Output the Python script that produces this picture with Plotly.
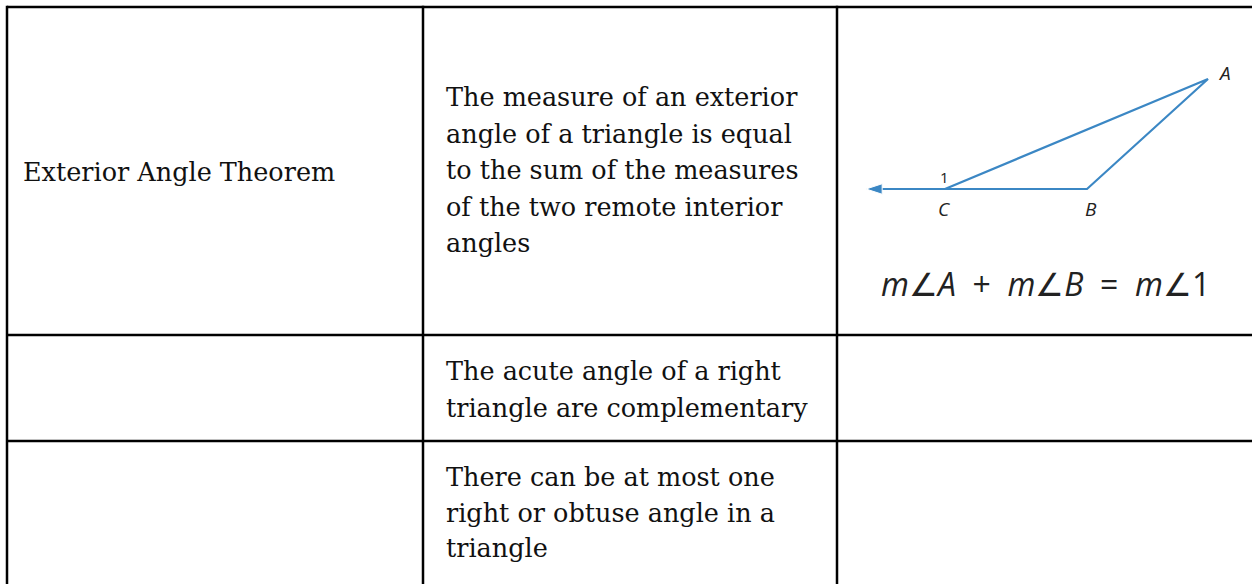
import plotly.graph_objects as go

# Contenu du tableau
theorem_names = ["Exterior Angle Theorem", "", ""]
theorem_texts = [
    ["The measure of an exterior",
     "angle of a triangle is equal",
     "to the sum of the measures",
     "of the two remote interior",
     "angles"],
    ["The acute angle of a right",
     "triangle are complementary"],
    ["There can be at most one",
     "right or obtuse angle in a",
     "triangle"],
]

# Figure : triangle ABC avec angle extérieur 1
vertex_labels = ["A", "B", "C"]
vertex_x = [1208, 1087, 945]
vertex_y = [79, 189, 189]
ray_x = [945, 866]
ray_y = [189, 189]
sp = "&nbsp;"
formula = ("<i>m</i>∠<i>A</i>" + sp * 2 + "+" + sp * 2 + "<i>m</i>∠<i>B</i>"
           + sp * 2 + "=" + sp * 2 + "<i>m</i>∠1")

# Mise en page (pixels)
W, H = 1252, 584
col_edges = [7, 423, 837]
row_edges = [7, 335, 441]
name_baselines = [181, None, None]
text_baselines = [[106, 142.5, 179, 215.5, 252], [380, 417], [486, 522, 557]]
text_x = 444
name_x = 21
font_size = 25.5
serif = "DejaVu Serif"
blue = "#3b87c4"

fig = go.Figure()

# Bordures du tableau
for x in col_edges:
    fig.add_shape(type="line", x0=x, x1=x, y0=row_edges[0] - 1.2, y1=H,
                  line=dict(color="black", width=2.5))
for y in row_edges:
    fig.add_shape(type="line", x0=col_edges[0], x1=W, y0=y, y1=y,
                  line=dict(color="black", width=2.5))

# Texte des cellules
for i, name in enumerate(theorem_names):
    if name:
        fig.add_annotation(x=name_x, y=name_baselines[i] - 9, text=name,
                           xanchor="left", yanchor="middle", showarrow=False,
                           font=dict(family=serif, size=font_size, color="#111"))
    for line, b in zip(theorem_texts[i], text_baselines[i]):
        fig.add_annotation(x=text_x, y=b - 9, text=line,
                           xanchor="left", yanchor="middle", showarrow=False,
                           font=dict(family=serif, size=font_size, color="#111"))

# Triangle
tri_x = [vertex_x[2], vertex_x[0], vertex_x[1], vertex_x[2]]
tri_y = [vertex_y[2], vertex_y[0], vertex_y[1], vertex_y[2]]
fig.add_trace(go.Scatter(x=tri_x, y=tri_y, mode="lines",
                         line=dict(color=blue, width=2.2), hoverinfo="skip"))
fig.add_trace(go.Scatter(x=ray_x, y=ray_y, mode="lines+markers",
                         line=dict(color=blue, width=2.2),
                         marker=dict(symbol="arrow", angleref="previous",
                                     size=[0, 17], color=blue, opacity=1),
                         hoverinfo="skip"))

# Étiquettes
label_font = dict(family="Open Sans", size=19, color="#222")
fig.add_annotation(x=vertex_x[0] + 16, y=vertex_y[0] - 6, text="<i>A</i>",
                   showarrow=False, font=label_font)
fig.add_annotation(x=vertex_x[1] + 4, y=vertex_y[1] + 20, text="<i>B</i>",
                   showarrow=False, font=label_font)
fig.add_annotation(x=vertex_x[2] - 1, y=vertex_y[2] + 20, text="<i>C</i>",
                   showarrow=False, font=label_font)
fig.add_annotation(x=vertex_x[2] - 1, y=vertex_y[2] - 12, text="1",
                   showarrow=False, font=dict(family="Open Sans", size=15, color="#222"))
fig.add_annotation(x=1045, y=283, text=formula, showarrow=False,
                   font=dict(family="Open Sans", size=32, color="#222"))

fig.update_xaxes(range=[0, W], visible=False, fixedrange=True)
fig.update_yaxes(range=[H, 0], visible=False, fixedrange=True)
fig.update_layout(
    width=W, height=H,
    margin=dict(l=0, r=0, t=0, b=0),
    paper_bgcolor="white", plot_bgcolor="white",
    showlegend=False,
)

fig.write_html("out.html", config={"displayModeBar": False},
               post_script="document.body.style.margin='0';")
